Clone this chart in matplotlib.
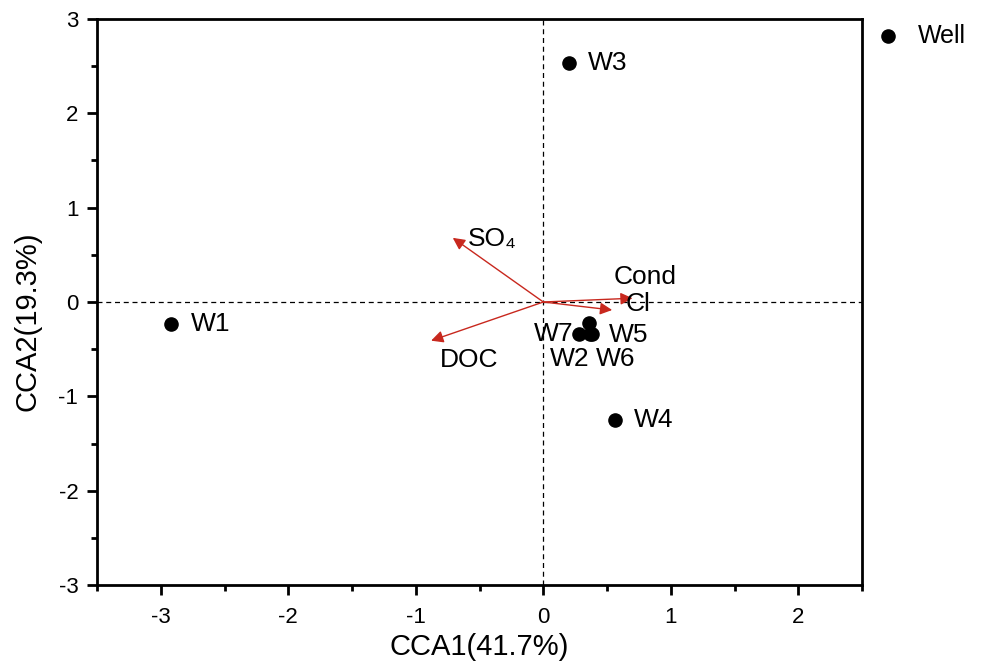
import numpy as np
import matplotlib.pyplot as plt
from matplotlib.ticker import MultipleLocator

plt.rcParams['font.family'] = ['Liberation Sans', 'DejaVu Sans']
plt.rcParams['axes.unicode_minus'] = False

# sites (well scores)
well_names = ['W1', 'W2', 'W3', 'W4', 'W5', 'W6', 'W7']
well_x = [-2.92, 0.37, 0.20, 0.56, 0.36, 0.38, 0.28]
well_y = [-0.23, -0.34, 2.53, -1.25, -0.22, -0.34, -0.34]

# environmental vectors
env_names = ['SO₄', 'Cond', 'Cl', 'DOC']
env_x = [-0.71, 0.70, 0.54, -0.88]
env_y = [0.68, 0.04, -0.085, -0.41]

# label offsets in points
well_off = {'W1': (14, 0, 'left'), 'W2': (-15, -18, 'center'), 'W3': (14, 0, 'left'),
            'W4': (14, 0, 'left'), 'W5': (14, -9, 'left'), 'W6': (3, -18, 'left'),
            'W7': (-4, 0, 'right')}
env_off = {'SO₄': (11, -1, 'left'), 'Cond': (-14, 15, 'left'), 'Cl': (10, 4, 'left'),
           'DOC': (6, -14, 'left')}

fig = plt.figure(figsize=(9.83, 6.66), dpi=100)
ax = fig.add_axes([0.0987, 0.1216, 0.7783, 0.8499])

ax.axhline(0, color='black', lw=0.9, ls=(0, (4, 3)), zorder=1)
ax.axvline(0, color='black', lw=0.9, ls=(0, (4, 3)), zorder=1)

ax.scatter(well_x, well_y, s=90, color='black', zorder=3, label='Well')
for n, x, y in zip(well_names, well_x, well_y):
    dx, dy, ha = well_off[n]
    ax.annotate(n, (x, y), xytext=(dx, dy), textcoords='offset points',
                ha=ha, va='center', fontsize=19)

red = '#c8281e'
for n, x, y in zip(env_names, env_x, env_y):
    ax.annotate('', xy=(x, y), xytext=(0, 0),
                arrowprops=dict(arrowstyle='-|>', color=red, lw=1.0,
                                mutation_scale=18, shrinkA=0, shrinkB=0))
    dx, dy, ha = env_off[n]
    ax.annotate(n, (x, y), xytext=(dx, dy), textcoords='offset points',
                ha=ha, va='center', fontsize=19)

ax.set_xlim(-3.5, 2.5)
ax.set_ylim(-3, 3)
ax.xaxis.set_major_locator(MultipleLocator(1))
ax.xaxis.set_minor_locator(MultipleLocator(0.5))
ax.yaxis.set_major_locator(MultipleLocator(1))
ax.yaxis.set_minor_locator(MultipleLocator(0.5))
ax.tick_params(which='major', direction='out', length=7.5, width=2, labelsize=16, pad=6)
ax.tick_params(axis='x', which='major', pad=8)
ax.tick_params(which='minor', direction='out', length=4.5, width=2)
for s in ax.spines.values():
    s.set_linewidth(2)

ax.set_xlabel('CCA1(41.7%)', fontsize=21, labelpad=4)
ax.set_ylabel('CCA2(19.3%)', fontsize=21)
ax.yaxis.set_label_coords(-0.072, 0.466)

ax.legend(loc='upper left', bbox_to_anchor=(0.995, 1.018), frameon=False,
          fontsize=18, handletextpad=0.6, handlelength=1.2, borderaxespad=0.2)

fig.savefig('out.png', dpi=100)
